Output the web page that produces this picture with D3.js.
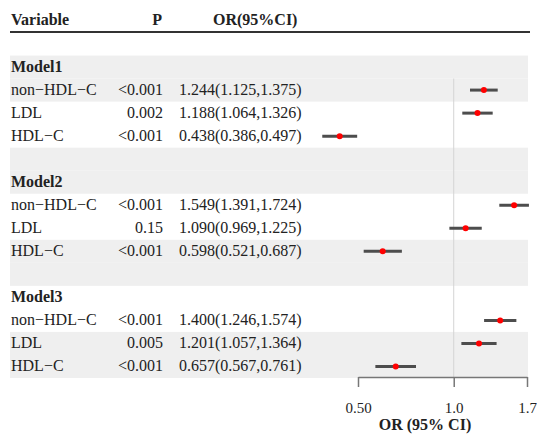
<!DOCTYPE html>
<html>
<head>
<meta charset="utf-8">
<script src="https://cdn.jsdelivr.net/npm/d3@7/dist/d3.min.js"></script>
<style>
  body { margin: 0; background: #fff; }
  svg text { font-family: "Liberation Serif", "DejaVu Serif", serif; fill: #222; }
</style>
</head>
<body>
<div id="myPlot"></div>
<script>
// data
const models = ['Model1', 'Model2', 'Model3'];
const variables = ['non\u2212HDL\u2212C', 'LDL', 'HDL\u2212C'];
const pValues = [
  ['<0.001', '0.002', '<0.001'],
  ['<0.001', '0.15', '<0.001'],
  ['<0.001', '0.005', '<0.001']
];
const orValues = [[1.244, 1.188, 0.438], [1.549, 1.090, 0.598], [1.400, 1.201, 0.657]];
const ciLow = [[1.125, 1.064, 0.386], [1.391, 0.969, 0.521], [1.246, 1.057, 0.567]];
const ciHigh = [[1.375, 1.326, 0.497], [1.724, 1.225, 0.687], [1.574, 1.364, 0.761]];
const tickValues = [0.5, 1.0, 1.7];
const tickLabels = ['0.50', '1.0', '1.7'];

const width = 537;
const height = 440;
const fontSize = '16px';

// build table rows: blank, model title, 3 variables, blank...
const rows = [{ type: 'blank' }];
models.forEach((m, i) => {
  rows.push({ type: 'title', label: m });
  variables.forEach((v, j) => {
    rows.push({
      type: 'item', label: v, p: pValues[i][j],
      or: orValues[i][j], lo: ciLow[i][j], hi: ciHigh[i][j]
    });
  });
  if (i < models.length - 1) rows.push({ type: 'blank' });
});

const svg = d3.select('#myPlot')
  .append('svg')
    .attr('width', width)
    .attr('height', height);

const y = d3.scaleBand()
  .domain(d3.range(rows.length))
  .range([32.5, 378]);

const x = d3.scaleLog()
  .domain([0.5, 1.7])
  .range([358, 527]);

// shaded bands, alternating in pairs of rows
rows.forEach((r, i) => {
  if (i > 0 && Math.floor((i - 1) / 2) % 2 === 0) {
    svg.append('rect')
      .attr('x', 10)
      .attr('y', y(i))
      .attr('width', 518)
      .attr('height', y.bandwidth())
      .attr('fill', '#efefef');
  }
});

// header
const header = svg.append('g').attr('font-weight', 'bold').attr('font-size', fontSize);
header.append('text').attr('x', 11).attr('y', 25).text('Variable');
header.append('text').attr('x', 162).attr('y', 25).attr('text-anchor', 'end').text('P');
header.append('text').attr('x', 213).attr('y', 25).text('OR(95%CI)');

svg.append('line')
  .attr('x1', 10).attr('x2', 530)
  .attr('y1', 32).attr('y2', 32)
  .attr('stroke', '#333')
  .attr('stroke-width', 2);

// reference line at OR = 1
svg.append('line')
  .attr('x1', x(1)).attr('x2', x(1))
  .attr('y1', y(2)).attr('y2', 378)
  .attr('stroke', '#d4d4d4')
  .attr('stroke-width', 1);

const rowG = svg.selectAll('g.row')
  .data(rows)
  .enter()
  .append('g')
    .attr('class', 'row')
    .attr('transform', (d, i) => 'translate(0,' + (y(i) + y.bandwidth() / 2) + ')');

rowG.filter(d => d.type === 'title')
  .append('text')
    .attr('x', 11)
    .attr('y', 5)
    .attr('font-size', fontSize)
    .attr('font-weight', 'bold')
    .text(d => d.label);

const items = rowG.filter(d => d.type === 'item');

items.append('text')
  .attr('x', 11).attr('y', 5)
  .attr('font-size', fontSize)
  .text(d => d.label);

items.append('text')
  .attr('x', 163).attr('y', 5)
  .attr('text-anchor', 'end')
  .attr('font-size', fontSize)
  .text(d => d.p);

items.append('text')
  .attr('x', 179).attr('y', 5)
  .attr('font-size', fontSize)
  .text(d => d.or.toFixed(3) + '(' + d.lo.toFixed(3) + ',' + d.hi.toFixed(3) + ')');

items.append('line')
  .attr('x1', d => x(d.lo))
  .attr('x2', d => x(d.hi))
  .attr('stroke', '#4d4d4d')
  .attr('stroke-width', 3);

items.append('circle')
  .attr('cx', d => x(d.or))
  .attr('r', 3)
  .attr('fill', 'red');

// x axis
const axis = svg.append('g')
  .attr('transform', 'translate(0,377)')
  .call(d3.axisBottom(x)
    .tickValues(tickValues)
    .tickFormat((d, i) => tickLabels[i])
    .tickSize(10)
    .tickSizeOuter(0)
    .tickPadding(15));
axis.select('.domain').attr('stroke', '#777').attr('stroke-width', 1.5);
axis.selectAll('.tick line').attr('stroke', '#777').attr('stroke-width', 1.5);
axis.selectAll('.tick text')
  .attr('font-family', '"Liberation Serif", serif')
  .attr('font-size', '15px')
  .attr('fill', '#222');

svg.append('text')
  .attr('x', 425)
  .attr('y', 430)
  .attr('text-anchor', 'middle')
  .attr('font-size', fontSize)
  .attr('font-weight', 'bold')
  .text('OR (95% CI)');
</script>
</body>
</html>
